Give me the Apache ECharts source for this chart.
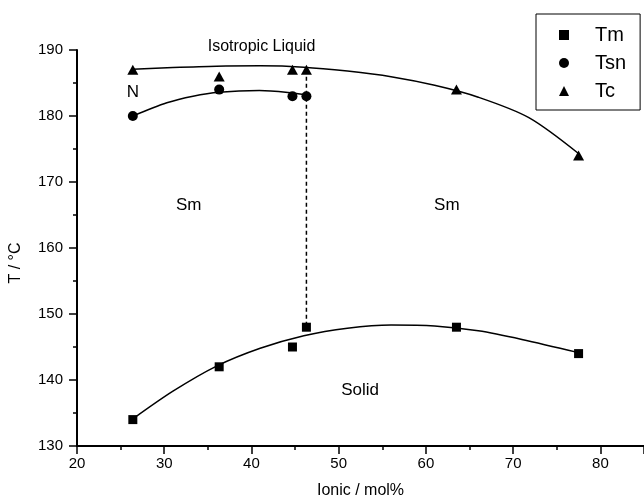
<!DOCTYPE html>
<html>
<head>
<meta charset="utf-8">
<script src="https://cdn.jsdelivr.net/npm/echarts@6/dist/echarts.min.js"></script>
<style>
  html, body { margin: 0; padding: 0; background: #fff; }
  #chart { width: 644px; height: 504px; }
</style>
</head>
<body>
<div id="chart"></div>
<script>
// measured points (Ionic / mol%)
const ionic = [26.4, 36.3, 44.7, 46.3, 63.5, 77.5]
const tmValues = [134, 142, 145, 148, 148, 144]
const tsnValues = [180, 184, 183, 183]
const tcValues = [187, 186, 187, 187, 184, 174]

// fitted curves
const tmFitX = [26.45, 31, 36, 41, 46, 51, 56, 61, 66, 71, 77.5]
const tmFitY = [134.15, 138.3, 142.1, 144.8, 146.7, 147.85, 148.35, 148.2, 147.45, 146.15, 144.15]
const tsnFitX = [26.4, 30.3, 33.3, 36.3, 40.9, 44.7, 46.3]
const tsnFitY = [180.0, 182.0, 183.0, 183.6, 183.85, 183.5, 183.2]
const tcFitX = [26.4, 31, 36, 41, 46, 51, 56, 61, 66, 71.8, 77.6]
const tcFitY = [187.1, 187.35, 187.55, 187.6, 187.4, 186.8, 185.95, 184.65, 182.85, 179.75, 174.2]

// dashed boundary
const boundaryX = [46.3, 46.3]
const boundaryY = [187, 148]

// phase labels
const annotTexts = ['Isotropic Liquid', 'N', 'Sm', 'Sm', 'Solid']
const annotX = [41.15, 26.4, 32.8, 62.4, 52.45]
const annotY = [190.45, 183.55, 166.45, 166.45, 138.4]
const annotSizes = [16, 17, 17, 17, 17]

const FONT = 'Liberation Sans, Arial, sans-serif'
const zip = (xs, ys) => ys.map((y, i) => [xs[i], y])

const chart = echarts.init(document.getElementById('chart'))

const fitLine = (xs, ys) => ({
  type: 'line',
  data: zip(xs, ys),
  smooth: 0.3,
  symbol: 'none',
  silent: true,
  lineStyle: { color: '#000', width: 1.5 },
  z: 2,
})

const dots = (name, ys, symbol, size) => ({
  name,
  type: 'scatter',
  data: zip(ionic, ys),
  symbol,
  symbolSize: size,
  itemStyle: { color: '#000', opacity: 1 },
  z: 3,
})

chart.setOption({
  animation: false,
  backgroundColor: '#fff',
  textStyle: { fontFamily: FONT, color: '#000' },
  grid: { left: 77, top: 50, right: 0, bottom: 54 },
  legend: {
    data: [
      { name: 'Tm', icon: 'rect' },
      { name: 'Tsn', icon: 'circle' },
      { name: 'Tc', icon: 'triangle' },
    ],
    orient: 'vertical',
    left: 536,
    top: 14,
    padding: [11, 14, 9, 23],
    itemWidth: 10,
    itemHeight: 10,
    itemGap: 8,
    borderColor: '#000',
    borderWidth: 1,
    selectedMode: false,
    itemStyle: { opacity: 1 },
    textStyle: {
      fontFamily: FONT,
      fontSize: 20,
      lineHeight: 20,
      color: '#000',
      padding: [0, 0, 0, 21],
    },
  },
  xAxis: {
    type: 'value',
    min: 20,
    max: 85,
    interval: 10,
    name: 'Ionic / mol%',
    nameLocation: 'middle',
    nameGap: 37,
    nameTextStyle: { fontFamily: FONT, fontSize: 16, color: '#000' },
    axisLine: { lineStyle: { color: '#000', width: 2 } },
    axisTick: { length: 8, lineStyle: { color: '#000', width: 1.5 } },
    minorTick: { show: true, splitNumber: 2, length: 4, lineStyle: { color: '#000', width: 1.5 } },
    axisLabel: { fontSize: 15, color: '#000', margin: 10, showMaxLabel: false },
    splitLine: { show: false },
  },
  yAxis: {
    type: 'value',
    min: 130,
    max: 190,
    interval: 10,
    name: 'T / °C',
    nameLocation: 'middle',
    nameGap: 53,
    nameTextStyle: { fontFamily: FONT, fontSize: 16, color: '#000', padding: [0, 30, 0, 0] },
    axisLine: { lineStyle: { color: '#000', width: 2 } },
    axisTick: { length: 8, lineStyle: { color: '#000', width: 1.5 } },
    minorTick: { show: true, splitNumber: 2, length: 4, lineStyle: { color: '#000', width: 1.5 } },
    axisLabel: { fontSize: 15, color: '#000', margin: 14 },
    splitLine: { show: false },
  },
  series: [
    fitLine(tmFitX, tmFitY),
    fitLine(tsnFitX, tsnFitY),
    fitLine(tcFitX, tcFitY),
    {
      type: 'line',
      data: zip(boundaryX, boundaryY),
      symbol: 'none',
      silent: true,
      lineStyle: { color: '#000', width: 1.5, type: [4, 3] },
      z: 1,
    },
    dots('Tm', tmValues, 'rect', 9),
    dots('Tsn', tsnValues, 'circle', 10),
    dots('Tc', tcValues, 'triangle', [11, 10]),
  ],
})

// place phase labels at their data positions
chart.setOption({
  graphic: annotTexts.map((text, i) => {
    const [px, py] = chart.convertToPixel({ gridIndex: 0 }, [annotX[i], annotY[i]])
    return {
      type: 'text',
      x: px,
      y: py,
      silent: true,
      style: {
        text,
        fill: '#000',
        font: `${annotSizes[i]}px ${FONT}`,
        textAlign: 'center',
        textVerticalAlign: 'middle',
      },
    }
  }),
})
</script>
</body>
</html>
